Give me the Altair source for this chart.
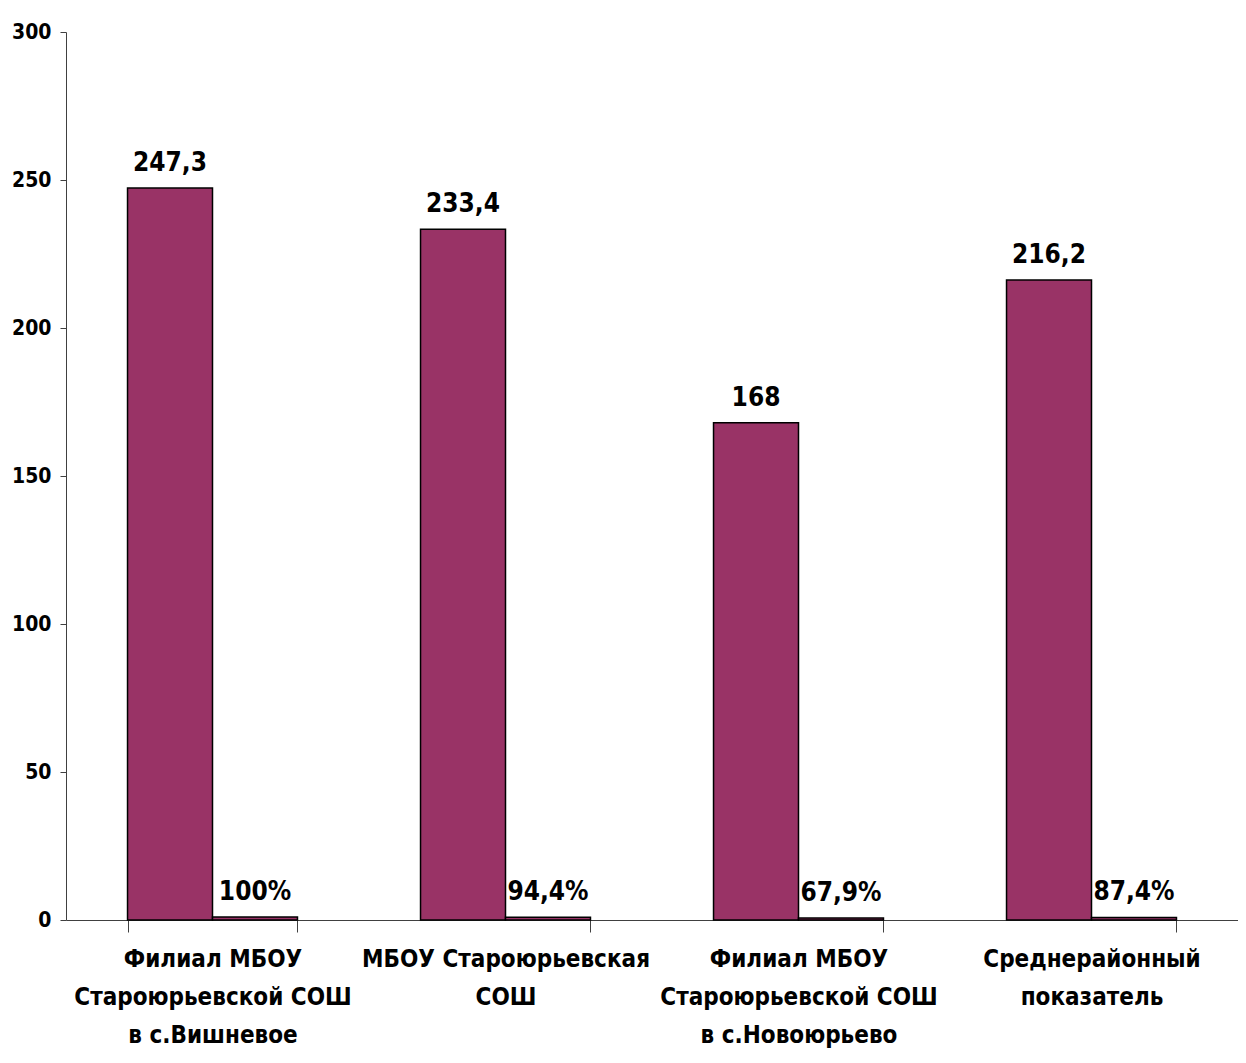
import altair as alt
import pandas as pd

categories = [
    "Филиал МБОУ\nСтароюрьевской СОШ\nв с.Вишневое",
    "МБОУ Староюрьевская\nСОШ",
    "Филиал МБОУ\nСтароюрьевской СОШ\nв с.Новоюрьево",
    "Среднерайонный\nпоказатель",
]
scores = [247.3, 233.4, 168.0, 216.2]
shares = [1.0, 0.944, 0.679, 0.874]
score_labels = ["247,3", "233,4", "168", "216,2"]
share_labels = ["100%", "94,4%", "67,9%", "87,4%"]

rows = []
for c, v, l in zip(categories, scores, score_labels):
    rows.append({"cat": c, "series": "a", "value": v, "label": l})
for c, v, l in zip(categories, shares, share_labels):
    rows.append({"cat": c, "series": "b", "value": v, "label": l})
df = pd.DataFrame(rows)

FONT = "'Arial Narrow', 'Liberation Sans Narrow', 'DejaVu Sans Condensed', sans-serif"

x = alt.X(
    "cat:N",
    sort=categories,
    scale=alt.Scale(paddingInner=0.42, paddingOuter=0.21),
    axis=alt.Axis(
        title=None,
        labelAngle=0,
        labelExpr="split(datum.label, '\\n')",
        labelFont=FONT,
        labelFontSize=24,
        labelFontWeight="bold",
        labelColor="black",
        labelLineHeight=38,
        labelLimit=0,
        labelPadding=15,
        tickBand="extent",
        tickSize=12,
        tickColor="#404040",
        domainColor="#404040",
        labelBaseline="top",
        grid=False,
    ),
)
xo = alt.XOffset("series:N", scale=alt.Scale(paddingInner=0, paddingOuter=0))
y = alt.Y(
    "value:Q",
    scale=alt.Scale(domain=[0, 300], nice=False),
    axis=alt.Axis(
        title=None,
        values=[0, 50, 100, 150, 200, 250, 300],
        grid=False,
        labelFont=FONT,
        labelFontSize=21,
        labelFontWeight="bold",
        labelColor="black",
        labelPadding=9,
        tickSize=6,
        tickColor="#404040",
        domainColor="#404040",
    ),
)

bars = alt.Chart(df).mark_bar(
    color="#993366", stroke="black", strokeWidth=1.5
).encode(x=x, xOffset=xo, y=y)

text = alt.Chart(df).mark_text(
    font=FONT, fontSize=26, fontWeight="bold", color="black",
    baseline="alphabetic", dy=-17
).encode(x=x, xOffset=xo, y=y, text="label:N")

chart = (
    alt.layer(bars, text)
    .properties(
        width=1172,
        height=888,
        autosize=alt.AutoSizeParams(type="none"),
        padding={"left": 58, "top": 24, "right": 0, "bottom": 135},
    )
    .configure(
        background="white",
        view=alt.ViewConfig(stroke="transparent", strokeWidth=0),
        style={"cell": {"stroke": "transparent", "strokeWidth": 0}},
        axis=alt.AxisConfig(grid=False),
    )
)

chart.save("out.html", embed_options={"renderer": "svg", "actions": False})
